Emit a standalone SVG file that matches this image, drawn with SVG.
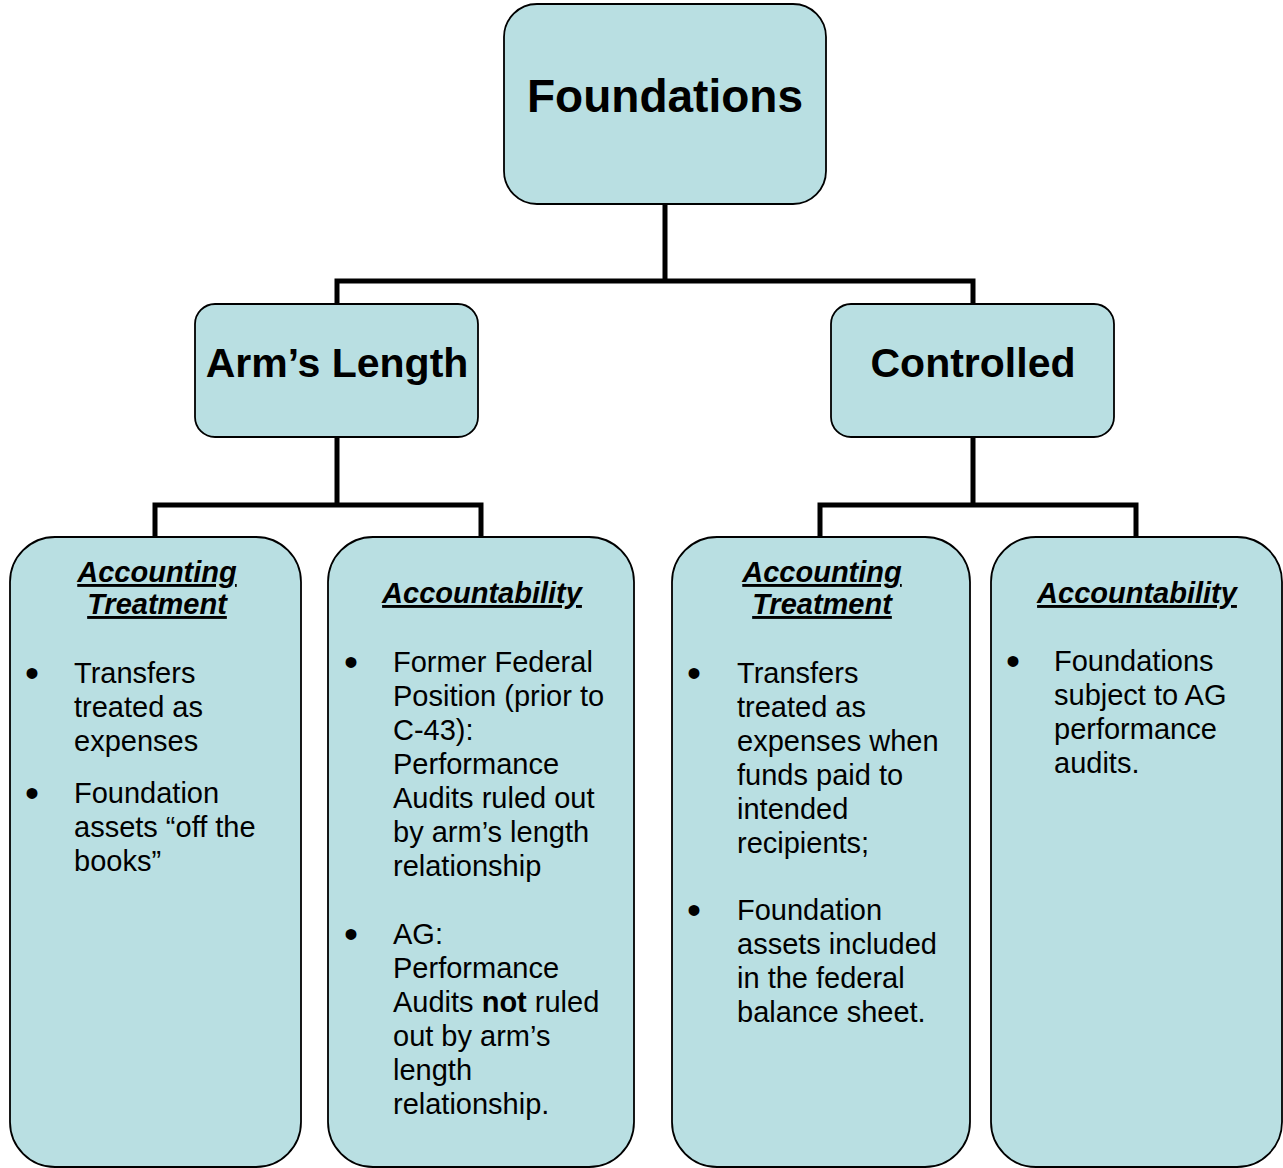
<svg xmlns="http://www.w3.org/2000/svg" width="1283" height="1168" viewBox="0 0 1283 1168">
<style>
.box{fill:#B9DFE2;stroke:#000;stroke-width:1.8}
.conn{fill:none;stroke:#000;stroke-width:5;stroke-linejoin:miter;stroke-linecap:square}
.title{font-family:"Liberation Sans",Arial,sans-serif;font-weight:bold;fill:#000;text-anchor:middle}
.hdr{font-family:"Liberation Sans",Arial,sans-serif;font-weight:bold;font-style:italic;font-size:29px;fill:#000;text-anchor:middle;text-decoration:underline}
.body{font-family:"Liberation Sans",Arial,sans-serif;font-size:29px;fill:#000}
.bul{font-family:"Liberation Sans",Arial,sans-serif;font-size:40px;fill:#000}
</style>
<rect width="1283" height="1168" fill="#fff"/>
<g id="connectors">
<path class="conn" d="M665,204 V281 M337,281 H973 M337,281 V304 M973,281 V304"/>
<path class="conn" d="M337,437 V505 M155,505 H481 M155,505 V537 M481,505 V537"/>
<path class="conn" d="M973,437 V505 M820,505 H1136 M820,505 V537 M1136,505 V537"/>
</g>
<g id="foundations">
<rect class="box" x="504" y="4" width="322" height="200" rx="33"/>
<text class="title" x="665" y="112" font-size="46">Foundations</text>
</g>
<g id="armslength">
<rect class="box" x="195" y="304" width="283" height="133" rx="20"/>
<text class="title" x="337" y="377" font-size="41">Arm’s Length</text>
</g>
<g id="controlled">
<rect class="box" x="831" y="304" width="283" height="133" rx="20"/>
<text class="title" x="973" y="377" font-size="41">Controlled</text>
</g>
<g id="arm-accounting">
<rect class="box" x="10" y="537" width="291" height="630" rx="45"/>
<text class="hdr" x="157" y="582">Accounting</text>
<text class="hdr" x="157" y="614">Treatment</text>
<text class="bul" x="25" y="687">•</text>
<text class="body" x="74" y="683">Transfers</text>
<text class="body" x="74" y="717">treated as</text>
<text class="body" x="74" y="751">expenses</text>
<text class="bul" x="25" y="807">•</text>
<text class="body" x="74" y="803">Foundation</text>
<text class="body" x="74" y="837">assets “off the</text>
<text class="body" x="74" y="871">books”</text>
</g>
<g id="arm-accountability">
<rect class="box" x="328" y="537" width="306" height="630" rx="45"/>
<text class="hdr" x="482" y="603">Accountability</text>
<text class="bul" x="344" y="676">•</text>
<text class="body" x="393" y="672">Former Federal</text>
<text class="body" x="393" y="706">Position (prior to</text>
<text class="body" x="393" y="740">C-43):</text>
<text class="body" x="393" y="774">Performance</text>
<text class="body" x="393" y="808">Audits ruled out</text>
<text class="body" x="393" y="842">by arm’s length</text>
<text class="body" x="393" y="876">relationship</text>
<text class="bul" x="344" y="948">•</text>
<text class="body" x="393" y="944">AG:</text>
<text class="body" x="393" y="978">Performance</text>
<text class="body" x="393" y="1012">Audits <tspan font-weight="bold">not</tspan> ruled</text>
<text class="body" x="393" y="1046">out by arm’s</text>
<text class="body" x="393" y="1080">length</text>
<text class="body" x="393" y="1114">relationship.</text>
</g>
<g id="ctl-accounting">
<rect class="box" x="672" y="537" width="298" height="630" rx="45"/>
<text class="hdr" x="822" y="582">Accounting</text>
<text class="hdr" x="822" y="614">Treatment</text>
<text class="bul" x="687" y="687">•</text>
<text class="body" x="737" y="683">Transfers</text>
<text class="body" x="737" y="717">treated as</text>
<text class="body" x="737" y="751">expenses when</text>
<text class="body" x="737" y="785">funds paid to</text>
<text class="body" x="737" y="819">intended</text>
<text class="body" x="737" y="853">recipients;</text>
<text class="bul" x="687" y="924">•</text>
<text class="body" x="737" y="920">Foundation</text>
<text class="body" x="737" y="954">assets included</text>
<text class="body" x="737" y="988">in the federal</text>
<text class="body" x="737" y="1022">balance sheet.</text>
</g>
<g id="ctl-accountability">
<rect class="box" x="991" y="537" width="291" height="630" rx="45"/>
<text class="hdr" x="1137" y="603">Accountability</text>
<text class="bul" x="1006" y="675">•</text>
<text class="body" x="1054" y="671">Foundations</text>
<text class="body" x="1054" y="705">subject to AG</text>
<text class="body" x="1054" y="739">performance</text>
<text class="body" x="1054" y="773">audits.</text>
</g>
</svg>
